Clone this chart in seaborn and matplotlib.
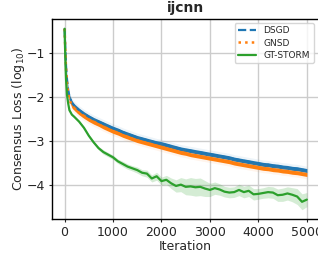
import numpy as np
import matplotlib
matplotlib.use("Agg")
import matplotlib.pyplot as plt
import seaborn as sns

# iterations at which the curves were read
iters = [0, 10, 20, 30, 50, 75, 100, 150, 200, 300, 400, 500, 600, 700, 800, 900,
         1000, 1100, 1200, 1300, 1400, 1500, 1600, 1700, 1800, 1900,
         2000, 2100, 2200, 2300, 2400, 2500, 2600, 2700, 2800, 2900,
         3000, 3100, 3200, 3300, 3400, 3500, 3600, 3700, 3800, 3900,
         4000, 4100, 4200, 4300, 4400, 4500, 4600, 4700, 4800, 4900, 5000]

dsgd = [-0.45, -0.75, -1.05, -1.30, -1.60, -1.85, -1.99, -2.13, -2.20, -2.30, -2.38, -2.45, -2.51, -2.56, -2.61, -2.66,
        -2.71, -2.75, -2.80, -2.84, -2.88, -2.92, -2.95, -2.98, -3.01, -3.04,
        -3.06, -3.09, -3.12, -3.15, -3.18, -3.20, -3.22, -3.24, -3.26, -3.28,
        -3.30, -3.32, -3.34, -3.36, -3.38, -3.41, -3.43, -3.45, -3.47, -3.49,
        -3.51, -3.53, -3.54, -3.56, -3.57, -3.59, -3.60, -3.62, -3.63, -3.65, -3.67]

gnsd = [-0.45, -0.77, -1.08, -1.35, -1.68, -1.93, -2.06, -2.19, -2.26, -2.36, -2.44, -2.51, -2.57, -2.62, -2.68, -2.73,
        -2.78, -2.82, -2.87, -2.91, -2.95, -2.99, -3.02, -3.05, -3.08, -3.11,
        -3.14, -3.17, -3.20, -3.23, -3.26, -3.28, -3.31, -3.33, -3.35, -3.37,
        -3.39, -3.41, -3.43, -3.45, -3.47, -3.50, -3.52, -3.54, -3.56, -3.58,
        -3.60, -3.62, -3.63, -3.65, -3.66, -3.68, -3.69, -3.71, -3.72, -3.74, -3.76]

gtstorm = [-0.45, -0.90, -1.30, -1.60, -1.95, -2.15, -2.30, -2.40, -2.45, -2.56, -2.70, -2.88, -3.03, -3.16, -3.25, -3.31,
           -3.37, -3.46, -3.52, -3.58, -3.62, -3.66, -3.72, -3.74, -3.85, -3.80,
           -3.91, -3.88, -3.96, -4.02, -3.99, -4.04, -4.03, -4.05, -4.04, -4.08,
           -4.11, -4.07, -4.10, -4.15, -4.17, -4.16, -4.11, -4.16, -4.13, -4.21,
           -4.20, -4.18, -4.16, -4.17, -4.23, -4.22, -4.19, -4.22, -4.26, -4.38, -4.33]

# spread (std) of the GT-STORM runs
gtstorm_std = [0.0, 0.01, 0.01, 0.01, 0.02, 0.02, 0.02, 0.02, 0.02, 0.02, 0.03, 0.03, 0.03, 0.04, 0.05, 0.05,
               0.05, 0.05, 0.06, 0.06, 0.06, 0.07, 0.07, 0.08, 0.08, 0.09,
               0.09, 0.10, 0.12, 0.14, 0.16, 0.18, 0.20, 0.20, 0.20, 0.18,
               0.15, 0.14, 0.13, 0.12, 0.12, 0.12, 0.13, 0.13, 0.13, 0.13,
               0.12, 0.12, 0.13, 0.13, 0.14, 0.15, 0.15, 0.16, 0.18, 0.18, 0.16]

x = np.array(iters)
blue, orange, green = "#1f77b4", "#ff7f0e", "#2ca02c"
noise = 0.045  # half-thickness of the jittery DSGD/GNSD traces

sns.set_style("white")
plt.rcParams["font.family"] = ["DejaVu Sans"]

fig, ax = plt.subplots(figsize=(3.18, 2.61), dpi=100)
fig.subplots_adjust(left=0.165, right=1.003, bottom=0.161, top=0.927)

ax.grid(True, color="#cccccc", linewidth=1.0)
ax.set_axisbelow(True)

for y, c in [(dsgd, blue), (gnsd, orange)]:
    y = np.array(y)
    ax.fill_between(x, y - 2.2 * noise, y + 2.2 * noise, color=c, alpha=0.08, lw=0)
    ax.fill_between(x, y - noise, y + noise, color=c, alpha=1.0, lw=0)

g = np.array(gtstorm)
s = np.array(gtstorm_std)
ax.fill_between(x, g - s, g + s, color=green, alpha=0.2, lw=0)

sns.lineplot(x=x, y=dsgd, ax=ax, color=blue, linestyle="--", linewidth=1.6, label="DSGD")
sns.lineplot(x=x, y=gnsd, ax=ax, color=orange, linestyle=":", linewidth=1.8, label="GNSD")
sns.lineplot(x=x, y=gtstorm, ax=ax, color=green, linestyle="-", linewidth=1.6, label="GT-STORM")

ax.set_xlim(-250, 5250)
ax.set_ylim(-4.77, -0.23)
ax.set_xticks([0, 1000, 2000, 3000, 4000, 5000])
ax.set_yticks([-1, -2, -3, -4])
ax.tick_params(axis="both", labelsize=9, length=2.5, width=0.8, direction="out",
               left=True, bottom=True, pad=2.5)
for sp in ax.spines.values():
    sp.set_color("black")
    sp.set_linewidth(1.0)

ax.set_title("ijcnn", fontsize=10, fontweight="bold", pad=5)
ax.set_xlabel("Iteration", fontsize=9, labelpad=1)
ax.set_ylabel("Consensus Loss (log$_{10}$)", fontsize=9, labelpad=0)
ax.legend(loc="upper right", fontsize=6.5, frameon=True, handlelength=2.0,
          borderpad=0.4, labelspacing=0.35, borderaxespad=0.3,
          bbox_to_anchor=(0.99, 0.995))

fig.savefig("out.png", dpi=100)
